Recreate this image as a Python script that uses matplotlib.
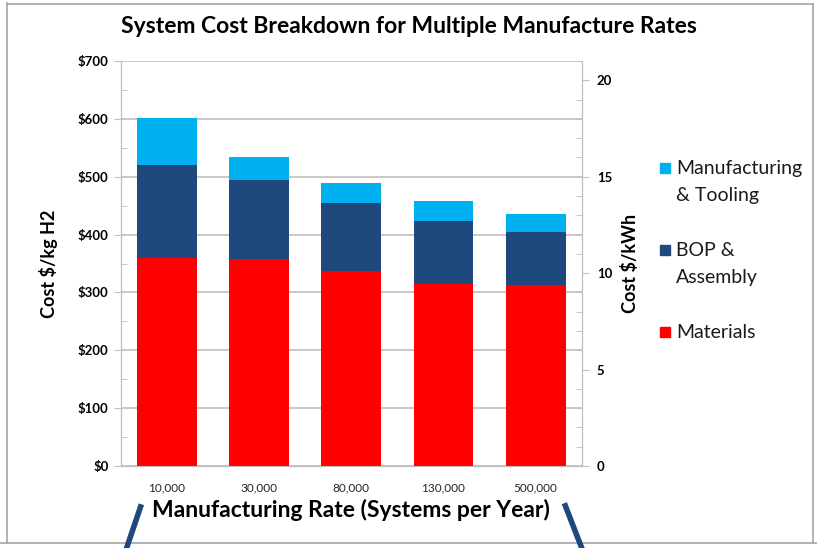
import numpy as np
import matplotlib.pyplot as plt
from matplotlib.lines import Line2D
from matplotlib.patches import Rectangle
from matplotlib.ticker import MultipleLocator, FuncFormatter

plt.rcParams['font.family'] = ['Lato', 'DejaVu Sans']

rates = ['10,000', '30,000', '80,000', '130,000', '500,000']
materials = [359, 357, 337, 315, 313]
bop = [162, 137, 117, 109, 91]
mfg = [80, 40, 35, 34, 32]
kg_per_kwh = 700 / 21.0   # $/kg H2 -> $/kWh scaling of right axis
legend_labels = ['Manufacturing\n& Tooling', 'BOP &\nAssembly', 'Materials']

c_mat = '#ff0000'
c_bop = '#1f497d'
c_mfg = '#00b0f0'
grid_c = '#bfbfbf'

fig = plt.figure(figsize=(8.17, 5.48), dpi=100)
ax = fig.add_axes([0.148, 0.1496, 0.564, 0.739])

x = np.arange(len(rates))
w = 0.65
mat = np.array(materials)
bp = np.array(bop)
mf = np.array(mfg)
ax.bar(x, mat, w, color=c_mat, zorder=3)
ax.bar(x, bp, w, bottom=mat, color=c_bop, zorder=3)
ax.bar(x, mf, w, bottom=mat + bp, color=c_mfg, zorder=3)

ax.set_xlim(-0.5, len(rates) - 0.5)
ax.set_ylim(0, 700)
ax.yaxis.set_major_locator(MultipleLocator(100))
ax.yaxis.set_minor_locator(MultipleLocator(50))
ax.yaxis.set_major_formatter(FuncFormatter(lambda v, p: '$%d' % v))
ax.grid(axis='y', color=grid_c, linewidth=1.2, zorder=0)
ax.set_xticks(x)
ax.set_xticklabels(rates, fontsize=8.5, color='#262626')
ax.tick_params(axis='x', length=0, pad=12)
ax.tick_params(axis='y', which='major', length=5, color=grid_c, labelsize=9.5, pad=4)
ax.tick_params(axis='y', which='minor', length=4, direction='in', color=grid_c)
for lab in ax.get_yticklabels():
    lab.set_fontweight('bold')
for s in ax.spines.values():
    s.set_color(grid_c)
ax.spines['top'].set_visible(False)

ax2 = ax.twinx()
ax2.set_ylim(0, 700 / kg_per_kwh)
ax2.yaxis.set_major_locator(MultipleLocator(5))
ax2.yaxis.set_minor_locator(MultipleLocator(1))
ax2.tick_params(axis='y', which='major', length=5, color=grid_c, labelsize=9.5, pad=6)
ax2.tick_params(axis='y', which='minor', length=4, direction='in', color=grid_c)
for lab in ax2.get_yticklabels():
    lab.set_fontweight('bold')
for s in ax2.spines.values():
    s.set_color(grid_c)
ax2.spines['top'].set_visible(False)

ax.set_ylabel('Cost $/kg H2', fontsize=13, fontweight='bold', labelpad=14)
ax2.set_ylabel('Cost $/kWh', fontsize=13, fontweight='bold', labelpad=6)
ax.set_xlabel('Manufacturing Rate (Systems per Year)', fontsize=16.5, fontweight='bold', labelpad=4)
fig.suptitle('System Cost Breakdown for Multiple Manufacture Rates', x=0.5, y=0.97,
             fontsize=16.5, fontweight='bold')

# legend: square next to the first line of each label
leg_colors = [c_mfg, c_bop, c_mat]
leg_y = [168, 250, 332]   # pixel rows of first text line
for col, lab, py in zip(leg_colors, legend_labels, leg_y):
    yf = 1 - py / 548
    fig.add_artist(Rectangle((660 / 817, yf - 5 / 548), 10 / 817, 10 / 548,
                             transform=fig.transFigure, color=col))
    fig.text(676 / 817, yf + 8 / 548, lab, fontsize=14, va='top', ha='left',
             linespacing=1.7, color='#1a1a1a')

# slide decoration: frame and slanted connector lines
fig.add_artist(Line2D([0.009, 0.009], [0.01, 0.995], color='#a6a6a6', lw=1.2))
fig.add_artist(Line2D([0.009, 0.995], [0.993, 0.993], color='#a6a6a6', lw=1.2))
fig.add_artist(Line2D([0.995, 0.995], [0.01, 0.993], color='#a6a6a6', lw=1.2))
fig.add_artist(Line2D([0.0, 1.0], [0.009, 0.009], color='#a6a6a6', lw=1.2))
fig.add_artist(Line2D([0.172, 0.155], [0.075, 0.0], color=c_bop, lw=4))
fig.add_artist(Line2D([0.692, 0.712], [0.077, 0.0], color=c_bop, lw=4))

fig.savefig('out.png', dpi=100)
